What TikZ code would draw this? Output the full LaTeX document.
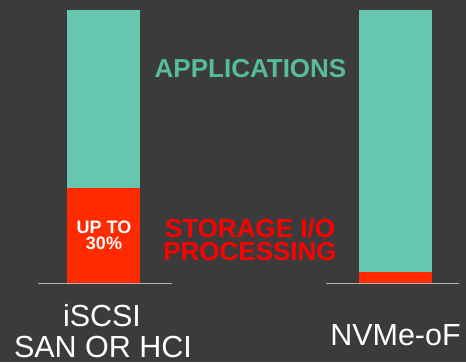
\documentclass[tikz,border=0pt]{standalone}
\usepackage{fontspec}
\setmainfont{Liberation Sans}
\usetikzlibrary{positioning}
\definecolor{slate}{HTML}{3B3B3B}
\definecolor{mint}{HTML}{66C6B0}
\definecolor{mintdark}{HTML}{58BB9B}
\definecolor{flame}{HTML}{FF2A00}
\definecolor{alarm}{HTML}{FF0000}
\definecolor{rule}{HTML}{B0B0B0}
\tikzset{
  bar/.style={fill=#1,draw=none},
  bar/.default=mint,
  floor/.style={draw=rule,line width=1.5pt},
  heading/.style={font=\bfseries\fontsize{26}{26}\selectfont,text=#1,inner sep=0pt,anchor=base},
  heading/.default=mintdark,
  share/.style={font=\bfseries\fontsize{18}{18}\selectfont,text=white,inner sep=0pt,anchor=base},
  caption/.style={font=\fontsize{30.5}{30.5}\selectfont,text=white,inner sep=0pt,anchor=base},
  tight/.style={text depth=0pt,text height=#1},
}
\begin{document}
\begin{tikzpicture}[x=1pt,y=-1pt]
  \fill[slate] (0,0) rectangle (466,362);
  \useasboundingbox (0,0) rectangle (466,362);
  % left stack
  \fill[bar] (67,10) rectangle (140,188);
  \fill[bar=flame] (67,188) rectangle (140,283);
  % right stack
  \fill[bar] (359,10) rectangle (432,272);
  \fill[bar=flame] (359,272) rectangle (432,283);
  \draw[floor] (38,283.5) -- (172,283.5);
  \draw[floor] (326,283.5) -- (459,283.5);
  % labels
  \node[heading] (apps) at (250.5,77) {APPLICATIONS};
  \node[heading=alarm,tight=18pt] (io1) at (250,237) {STORAGE I/O};
  \node[heading=alarm,tight=18pt] (io2) at (250,260) {PROCESSING};
  \node[share,tight=13pt] (up) at (104,233) {UP TO};
  \node[share,tight=13pt] (pct) at (104,249) {30\%};
  \node[caption] (iscsi) at (102,326) {iSCSI};
  \node[caption] (san) at (103,357) {SAN OR HCI};
  \node[caption] (nvme) at (395.5,345) {NVMe-oF};
\end{tikzpicture}
\end{document}
